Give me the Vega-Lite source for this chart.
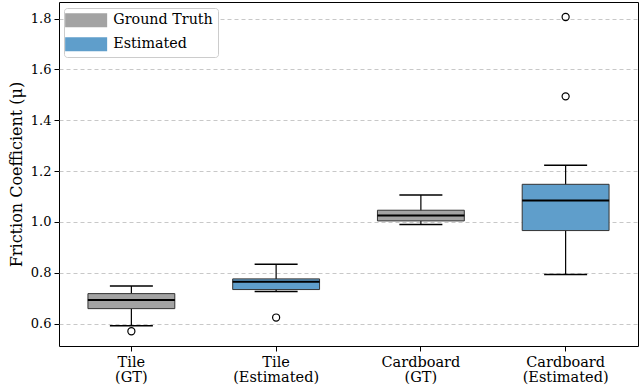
{
  "$schema": "https://vega.github.io/schema/vega-lite/v6.json",
  "width": 579,
  "height": 344,
  "autosize": "none",
  "padding": {"left": 59, "top": 2, "right": 2, "bottom": 43},
  "background": "white",
  "config": {
    "view": {"stroke": "black", "strokeWidth": 1},
    "font": "DejaVu Serif"
  },
  "datasets": {
    "boxes": [
      {"cat": "Tile (GT)", "group": "Ground Truth", "lower": 0.592, "q1": 0.659, "median": 0.693, "q3": 0.718, "upper": 0.748},
      {"cat": "Tile (Estimated)", "group": "Estimated", "lower": 0.726, "q1": 0.734, "median": 0.765, "q3": 0.776, "upper": 0.834},
      {"cat": "Cardboard (GT)", "group": "Ground Truth", "lower": 0.990, "q1": 1.004, "median": 1.025, "q3": 1.046, "upper": 1.106},
      {"cat": "Cardboard (Estimated)", "group": "Estimated", "lower": 0.793, "q1": 0.966, "median": 1.084, "q3": 1.148, "upper": 1.223}
    ],
    "outliers": [
      {"cat": "Tile (GT)", "value": 0.570},
      {"cat": "Tile (Estimated)", "value": 0.624},
      {"cat": "Cardboard (Estimated)", "value": 1.494},
      {"cat": "Cardboard (Estimated)", "value": 1.806}
    ]
  },
  "encoding": {
    "x": {
      "field": "cat",
      "type": "nominal",
      "scale": {"domain": ["Tile (GT)", "Tile (Estimated)", "Cardboard (GT)", "Cardboard (Estimated)"], "paddingInner": 0, "paddingOuter": 0},
      "axis": {
        "title": null,
        "labelAngle": 0,
        "labelExpr": "split(datum.label, ' ')",
        "labelFont": "DejaVu Serif",
        "labelFontSize": 14.5,
        "labelLineHeight": 15.5,
        "labelColor": "black",
        "labelPadding": 4,
        "tickSize": 5,
        "tickColor": "black",
        "domain": false,
        "grid": false
      }
    }
  },
  "layer": [
    {
      "data": {"name": "boxes"},
      "mark": {"type": "rule", "color": "black", "strokeWidth": 1.2},
      "encoding": {
        "y": {
          "field": "lower",
          "type": "quantitative",
          "scale": {"domain": [0.512, 1.865], "nice": false, "zero": false},
          "axis": {
            "values": [0.6, 0.8, 1.0, 1.2, 1.4, 1.6, 1.8],
            "format": ".1f",
            "title": "Friction Coefficient (μ)",
            "titleFont": "DejaVu Serif",
            "titleFontSize": 16,
            "titleFontWeight": "normal",
            "titleColor": "black",
            "titlePadding": 6,
            "labelFont": "DejaVu Serif",
            "labelFontSize": 13,
            "labelColor": "black",
            "labelPadding": 3,
            "tickSize": 5,
            "tickColor": "black",
            "domain": false,
            "grid": true,
            "gridDash": [4, 3],
            "gridColor": "#c8c8c8",
            "gridWidth": 1
          }
        },
        "y2": {"field": "upper"}
      }
    },
    {
      "data": {"name": "boxes"},
      "mark": {"type": "bar", "width": {"band": 0.6}, "stroke": "#333333", "strokeWidth": 1},
      "encoding": {
        "y": {"field": "q1", "type": "quantitative"},
        "y2": {"field": "q3"},
        "color": {
          "field": "group",
          "type": "nominal",
          "scale": {"domain": ["Ground Truth", "Estimated"], "range": ["#a3a3a3", "#5f9ecb"]},
          "legend": {
            "title": null,
            "orient": "none",
            "legendX": 5,
            "legendY": 6,
            "padding": 5,
            "fillColor": "white",
            "strokeColor": "#cccccc",
            "cornerRadius": 3,
            "symbolType": "M-3,-1H3V1H-3Z",
            "symbolSize": 196,
            "symbolStrokeWidth": 0,
            "symbolOpacity": 1,
            "symbolOffset": 10,
            "labelOffset": 20,
            "labelFont": "DejaVu Serif",
            "labelFontSize": 14.3,
            "labelColor": "black",
            "rowPadding": 9
          }
        }
      }
    },
    {
      "data": {"name": "boxes"},
      "mark": {"type": "tick", "color": "black", "size": 87, "thickness": 2, "opacity": 1},
      "encoding": {"y": {"field": "median", "type": "quantitative"}}
    },
    {
      "data": {"name": "boxes"},
      "mark": {"type": "tick", "color": "black", "size": 43, "thickness": 1.5, "opacity": 1},
      "encoding": {"y": {"field": "lower", "type": "quantitative"}}
    },
    {
      "data": {"name": "boxes"},
      "mark": {"type": "tick", "color": "black", "size": 43, "thickness": 1.5, "opacity": 1},
      "encoding": {"y": {"field": "upper", "type": "quantitative"}}
    },
    {
      "data": {"name": "outliers"},
      "mark": {"type": "point", "shape": "circle", "filled": false, "stroke": "black", "strokeWidth": 1.2, "size": 50, "opacity": 1},
      "encoding": {"y": {"field": "value", "type": "quantitative"}}
    }
  ]
}
